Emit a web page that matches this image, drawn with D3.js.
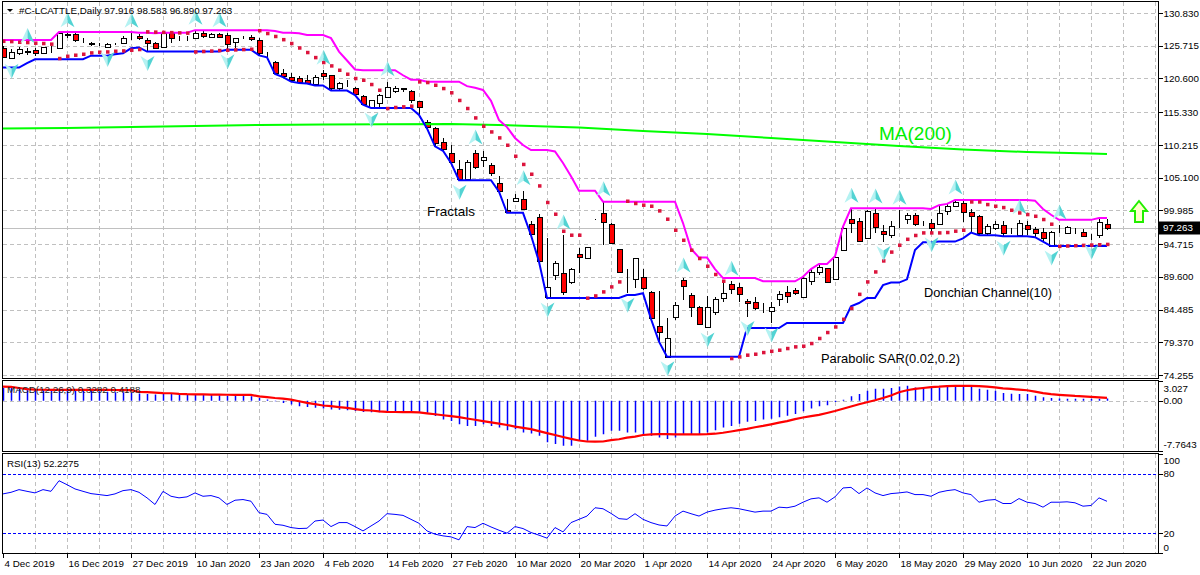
<!DOCTYPE html>
<html>
<head>
<meta charset="utf-8">
<script src="https://cdnjs.cloudflare.com/ajax/libs/d3/7.8.5/d3.min.js"></script>
<style>
body { margin: 0; background: #fff; }
svg { display: block; font-family: "Liberation Sans", Arial, sans-serif; }
</style>
</head>
<body>
<svg id="chart" width="1200" height="575"></svg>
<script>
// --- data ---
const symbolTitle = '#C-LCATTLE,Daily';
const lastBar = { open: 97.916, high: 98.583, low: 96.890, close: 97.263 };

const dateBars = [0, 8, 16, 24, 32, 40, 48, 56, 64, 72, 80, 88, 96, 104, 112, 120, 128, 136];
const dateLabels = ['4 Dec 2019', '16 Dec 2019', '27 Dec 2019', '10 Jan 2020', '23 Jan 2020', '4 Feb 2020',
  '14 Feb 2020', '27 Feb 2020', '10 Mar 2020', '20 Mar 2020', '1 Apr 2020', '14 Apr 2020', '24 Apr 2020',
  '6 May 2020', '18 May 2020', '29 May 2020', '10 Jun 2020', '22 Jun 2020'];

const opens = [125.31,123.75,124.53,124.8,125.05,124.53,125.3,125.31,127.5,127.55,
  126.6,126.1,125.9,125.56,126.0,126.19,127.0,127.24,126.61,126.19,
  125.47,127.75,126.9,126.9,126.88,127.75,127.1,127.55,127.4,126.35,
  127.0,127.1,126.61,124.4,123.2,121.5,120.9,120.6,120.4,119.7,
  121.5,121.1,119.1,119.75,119.06,117.9,116.2,116.7,117.75,118.7,
  119.1,118.7,117.1,113.84,112.8,110.7,108.9,106.4,104.84,108.9,
  107.9,107.1,104.3,100.0,101.5,101.72,97.86,99.0,86.5,89.89,
  90.15,88.84,93.12,92.5,98.59,99.53,97.86,93.9,89.53,89.22,
  89.62,87.28,81.92,77.12,83.28,89.1,86.76,84.93,81.7,84.15,
  86.24,88.48,87.95,85.87,85.6,84.8,84.3,86.09,87.28,87.5,
  86.4,89.0,90.4,90.9,89.22,93.8,98.59,98.37,95.62,99.62,
  96.7,96.14,98.6,98.6,99.26,98.06,97.95,97.86,99.94,100.67,
  101.09,99.78,99.1,96.5,97.2,97.7,96.7,96.14,97.7,97.0,
  96.65,94.42,97.0,96.5,96.8,96.65,96.0,96.14,97.916];
const highs = [125.6,125.16,125.47,125.3,125.3,125.56,125.67,127.86,127.75,127.75,
  126.9,126.35,126.2,126.1,126.1,127.24,127.66,127.6,126.88,126.35,
  127.75,127.75,127.3,127.3,128.15,128.0,127.7,127.75,127.66,127.0,
  127.2,127.4,126.9,124.8,123.4,122.0,121.4,121.0,121.2,121.1,
  121.9,121.1,120.1,120.4,119.3,118.0,117.3,118.2,120.1,119.4,
  119.15,118.8,117.1,114.1,113.0,111.3,110.2,107.9,107.9,109.4,
  109.2,107.4,105.3,101.8,102.5,103.06,98.4,99.4,95.6,92.0,
  96.14,91.0,94.06,94.3,98.7,101.34,98.0,94.0,90.78,92.6,
  90.8,87.4,87.43,83.12,85.6,89.4,87.1,85.0,86.6,86.4,
  88.83,88.9,88.6,86.2,86.4,85.5,85.6,87.4,88.2,87.8,
  89.6,90.8,91.6,91.0,92.8,97.45,100.3,98.8,100.1,100.2,
  97.7,98.3,100.0,99.6,99.6,98.4,98.6,100.8,101.0,101.6,
  101.5,100.2,99.3,97.8,98.3,98.3,97.3,98.5,98.3,97.4,
  97.2,96.8,97.7,97.6,97.2,97.0,96.3,98.8,98.583];
const lows = [123.9,123.6,124.27,124.27,124.16,124.38,124.53,125.31,127.0,126.35,
  126.1,125.67,125.6,125.45,125.8,126.1,126.6,126.6,124.8,125.2,
  125.4,126.2,126.4,126.4,126.7,127.0,127.0,126.9,125.1,125.4,
  126.7,126.4,124.2,123.9,121.3,120.8,120.1,119.9,119.8,119.5,
  120.4,118.7,118.7,119.3,118.0,116.5,116.0,116.2,117.7,118.3,
  118.5,116.8,114.9,112.8,110.0,109.3,107.4,104.7,104.8,106.4,
  106.8,105.3,102.9,99.6,101.34,100.04,96.1,91.96,86.3,89.1,
  86.76,88.5,90.15,92.4,98.5,94.57,94.7,90.3,87.03,87.8,
  87.6,83.0,79.46,77.12,82.8,85.98,83.38,82.1,81.6,83.6,
  85.7,86.9,85.6,83.38,84.4,83.9,82.4,85.0,85.5,86.7,
  86.3,88.3,89.9,88.7,89.2,93.8,96.4,95.0,95.5,96.5,
  95.1,95.6,97.2,97.8,97.6,97.5,96.5,97.7,99.3,100.5,
  98.2,96.65,96.1,96.2,96.9,95.95,96.3,96.0,96.1,95.8,
  95.1,94.4,96.4,96.3,96.3,95.8,95.3,95.6,96.89];
const closes = [124.0,124.78,125.16,124.82,124.53,125.47,125.31,127.66,127.4,126.61,
  126.55,126.05,125.85,125.98,125.95,126.88,127.0,126.88,126.19,125.31,
  127.7,126.88,126.85,126.9,127.75,127.24,127.55,127.1,126.0,126.88,
  127.0,126.7,124.53,124.35,121.5,121.0,120.4,120.1,119.9,120.8,
  121.0,119.1,119.85,119.75,118.17,116.6,117.2,118.0,119.2,119.1,
  119.0,117.2,116.1,112.97,110.5,109.5,107.6,104.84,107.6,106.8,
  108.4,105.9,103.06,99.8,101.87,100.15,96.29,92.12,88.06,91.72,
  87.28,90.78,92.65,94.22,98.6,98.22,94.84,90.4,89.5,92.5,
  87.8,83.12,81.03,80.0,85.2,88.17,84.93,82.23,84.93,86.09,
  87.12,87.7,86.9,85.47,84.7,84.8,84.9,86.97,86.6,87.1,
  89.37,90.4,91.1,88.84,92.65,97.19,98.06,95.25,99.94,97.34,
  96.3,97.55,98.6,99.26,97.86,98.06,97.2,99.62,100.67,101.34,
  99.78,99.1,96.5,97.55,97.86,96.5,96.7,98.06,97.0,96.4,
  95.62,96.65,97.0,97.34,96.8,95.98,96.0,98.22,97.263];

// the nine daily bars before 4 Dec that still feed the 10-bar Donchian window
const seedHighs = [125.6,125.9,126.1,126.0,126.3,126.4,126.6,126.2,125.9];
const seedLows = [122.3,122.4,122.3,123.0,123.9,124.1,124.3,124.4,124.2];

const sarValues = [126.45,126.4,126.3,126.25,126.15,126.1,126.0,
  123.75,124.1,124.27,124.42,124.63,124.74,124.78,124.89,124.94,125.05,125.16,
  127.92,127.88,127.84,127.8,127.76,127.72,
  124.78,124.85,124.92,125.0,125.05,125.1,125.15,125.2,
  128.1,127.66,127.2,126.7,126.1,125.4,124.69,123.9,123.13,122.6,121.92,121.3,120.63,120.36,119.69,118.8,
  115.94,116.1,116.2,116.3,
  120.1,120.0,119.58,119.06,118.4,117.2,115.94,114.47,113.17,112.28,111.35,110.2,108.48,107.2,105.67,103.84,101.25,99.42,96.76,96.14,96.14,
  86.3,86.65,87.28,88.06,88.84,
  101.45,101.1,100.83,100.67,99.94,98.64,96.92,95.35,93.8,92.5,91.29,90.0,88.95,
  76.87,77.12,77.39,77.54,77.8,78.0,78.17,78.43,78.69,78.79,
  79.21,80.0,80.93,81.8,83.0,84.7,86.9,88.84,90.4,92.12,
  93.5,94.57,95.5,96.1,96.5,96.5,96.5,96.56,96.77,96.92,
  101.34,101.34,100.93,100.67,100.46,100.04,99.62,99.37,99.1,98.59,97.86,
  94.4,94.45,94.5,94.55,94.6,94.65,94.7];

const upFractals = [3, 8, 16, 24, 27, 40, 48, 59, 65, 70, 75, 85, 91, 106, 109, 112, 119, 127, 132];
const downFractals = [1, 13, 18, 28, 46, 57, 68, 78, 83, 88, 93, 96, 110, 116, 125, 131, 136];

// MA(200) read at every 8th bar
const maBars = [0, 8, 16, 24, 32, 40, 48, 56, 64, 72, 80, 88, 96, 104, 112, 120, 128, 136, 138];
const maValues = [112.78, 112.86, 113.0, 113.17, 113.33, 113.4, 113.44, 113.48, 113.25, 112.94,
  112.39, 111.92, 111.3, 110.67, 110.05, 109.5, 109.1, 108.87, 108.8];

const macdMain = [2.0,1.95,1.9,1.85,1.8,1.75,1.7,1.8,1.82,1.75,
  1.65,1.55,1.45,1.38,1.3,1.28,1.25,1.1,1.02,0.95,
  1.05,1.02,1.0,0.97,0.98,0.92,0.88,0.82,0.72,0.72,
  0.72,0.68,0.42,0.18,-0.1,-0.35,-0.6,-0.86,-1.0,-1.1,
  -1.2,-1.35,-1.4,-1.5,-1.6,-1.75,-1.8,-1.8,-1.7,-1.62,
  -1.62,-1.62,-1.72,-1.87,-2.38,-2.89,-3.14,-3.65,-3.9,-3.9,
  -3.65,-3.9,-4.15,-4.56,-4.4,-4.91,-5.07,-5.42,-6.43,-6.69,
  -6.94,-6.94,-6.18,-6.18,-5.57,-5.17,-4.66,-4.66,-4.91,-4.91,
  -5.42,-5.42,-5.67,-5.93,-5.67,-5.17,-5.17,-5.27,-4.91,-4.56,
  -4.15,-3.9,-3.55,-3.24,-3.14,-2.89,-2.8,-2.58,-2.33,-2.07,
  -1.62,-1.21,-0.86,-0.71,-0.2,0.12,0.66,1.01,1.52,1.82,
  1.82,1.93,2.18,2.28,2.03,2.03,2.03,2.03,2.18,2.18,
  2.18,2.18,1.82,1.67,1.52,1.16,1.06,1.01,1.01,0.76,
  0.51,0.41,0.32,0.3,0.3,0.28,0.28,0.3,0.3282];
const macdSignal = [2.17,2.12,1.95,1.78,1.7,1.68,1.67,1.67,1.67,1.67,
  1.66,1.66,1.65,1.65,1.64,1.63,1.62,1.35,1.3,1.22,
  1.16,1.14,1.05,1.0,0.98,0.96,0.93,0.92,0.91,0.9,
  0.9,0.88,0.66,0.55,0.41,0.3,0.15,-0.1,-0.35,-0.55,
  -0.75,-0.86,-1.0,-1.11,-1.3,-1.45,-1.52,-1.65,-1.72,-1.75,
  -1.77,-1.77,-1.8,-1.95,-2.1,-2.25,-2.4,-2.55,-2.75,-2.95,
  -3.15,-3.35,-3.55,-3.75,-4.0,-4.2,-4.4,-4.7,-5.0,-5.3,
  -5.6,-5.9,-6.15,-6.3,-6.33,-6.3,-6.1,-5.95,-5.7,-5.55,
  -5.3,-5.2,-5.17,-5.17,-5.2,-5.2,-5.2,-5.2,-5.17,-5.1,
  -4.95,-4.76,-4.55,-4.35,-4.1,-3.9,-3.65,-3.4,-3.15,-2.85,
  -2.6,-2.4,-2.2,-1.9,-1.6,-1.25,-0.9,-0.55,-0.25,0.05,
  0.4,0.8,1.3,1.6,1.82,1.95,2.08,2.15,2.25,2.28,
  2.28,2.28,2.25,2.15,2.03,1.9,1.8,1.7,1.6,1.4,
  1.15,1.0,0.9,0.81,0.72,0.66,0.58,0.5,0.4188];

const rsiValues = [59.7,61.3,64,62.3,60.7,64,62.3,73,69,64.7,
  62.3,60,59,58,59.7,63,64,61.3,55.7,49,
  62.3,57.3,55.7,56.7,60.7,57.3,58,55.7,49,53.3,
  54,52.3,40.7,39,29,28,25.7,24.7,25,32.3,
  33.3,26.7,30.7,30.7,26.7,22.3,27.3,32.3,39.7,39,
  38,34,30,22.3,19,17.3,16.3,13.3,26.7,25.7,
  30,26.3,23,20,26.7,24.7,20.7,18,15,25.7,
  21.3,30.7,34,37.3,45.7,44.7,40,34.7,34,39.7,
  34,30.7,28.3,27.3,37.3,42.3,39.7,37.3,41.3,43.3,
  44.7,45.7,44.7,43,41.3,42.3,42.3,46.3,45.7,47.3,
  51.3,54.7,55.7,51.3,56.7,65.7,66.3,60,65.7,60.7,
  58,60,60.7,61.7,59,59,57.3,61.3,63,64,
  60.7,59,51.3,53.3,54,50,50,55,51.3,50,
  46.3,51.3,51.3,51.7,50.7,47.3,48,55.7,52.2275];

const priceTicks = [130.830, 125.715, 120.600, 115.330, 110.215, 105.100, 99.985, 94.715, 89.600, 84.485, 79.370, 74.255];
const macdTicks = [3.027, 0, -7.7643];
const macdTickLabels = ['3.027', '0.00', '-7.7643'];
const rsiTicks = [100, 80, 20, 0];
const rsiLevels = [80, 20];

// --- layout ---
const svg = d3.select('#chart');
const left = 2.5, right = 1158.5;
const panels = {
  main: { top: 1.5, bottom: 378.5 },
  macd: { top: 380.5, bottom: 451.5 },
  rsi: { top: 453.5, bottom: 553.5 }
};
const fontSmall = 9.8;

const x = d3.scaleLinear().domain([0, 138]).range([3, 1107]);
const y = d3.scaleLinear().domain([74.255, 130.83]).range([375, 13]);
const yMacd = d3.scaleLinear().domain([-7.7643, 3.027]).range([451, 381]);
const yRsi = d3.scaleLinear().domain([0, 100]).range([553, 454]);

const defs = svg.append('defs');
Object.entries(panels).forEach(([k, p]) => {
  defs.append('clipPath').attr('id', 'clip-' + k).append('rect')
    .attr('x', left).attr('y', p.top).attr('width', right - left).attr('height', p.bottom - p.top);
});

const gridColor = '#c0c0c0';
const gridBars = d3.range(4, 145, 4);

function panelGroup(k) {
  return svg.append('g').attr('clip-path', 'url(#clip-' + k + ')');
}

// vertical grid in all panels
Object.entries(panels).forEach(([k, p]) => {
  const g = panelGroup(k);
  g.selectAll('line.vg').data(gridBars).enter().append('line')
    .attr('x1', d => Math.round(x(d)) + 0.5).attr('x2', d => Math.round(x(d)) + 0.5)
    .attr('y1', p.top).attr('y2', p.bottom)
    .attr('stroke', gridColor).attr('stroke-dasharray', '4,3').attr('shape-rendering', 'crispEdges');
});

// ---------- main panel ----------
const gMain = panelGroup('main');
gMain.selectAll('line.hg').data(priceTicks).enter().append('line')
  .attr('x1', left).attr('x2', right)
  .attr('y1', d => Math.round(y(d)) + 0.5).attr('y2', d => Math.round(y(d)) + 0.5)
  .attr('stroke', gridColor).attr('stroke-dasharray', '4,3').attr('shape-rendering', 'crispEdges');

// current price line
gMain.append('line')
  .attr('x1', left).attr('x2', right)
  .attr('y1', Math.round(y(lastBar.close)) + 0.5).attr('y2', Math.round(y(lastBar.close)) + 0.5)
  .attr('stroke', '#c0c0c0').attr('shape-rendering', 'crispEdges');

// candles
const bars = opens.map((o, i) => ({ i, o, h: highs[i], l: lows[i], c: closes[i] }));
const candles = gMain.selectAll('g.candle').data(bars).enter().append('g').attr('shape-rendering', 'crispEdges');
candles.append('line')
  .attr('x1', d => x(d.i) + 0.5).attr('x2', d => x(d.i) + 0.5)
  .attr('y1', d => y(d.h)).attr('y2', d => y(d.l))
  .attr('stroke', '#000');
candles.append('rect')
  .attr('x', d => x(d.i) - 2 + 0.5)
  .attr('y', d => Math.round(y(Math.max(d.o, d.c))) + 0.5)
  .attr('width', 5)
  .attr('height', d => Math.max(0, Math.round(y(Math.min(d.o, d.c))) - Math.round(y(Math.max(d.o, d.c)))))
  .attr('fill', d => d.c < d.o ? '#ff0000' : '#ffffff')
  .attr('stroke', '#000');

// MA(200)
gMain.append('path')
  .datum(maBars.map((b, k) => [b, maValues[k]]))
  .attr('d', d3.line().x(d => x(d[0])).y(d => y(d[1])))
  .attr('fill', 'none').attr('stroke', '#00ff00').attr('stroke-width', 2);

// Donchian channel(10)
const allHighs = seedHighs.concat(highs);
const allLows = seedLows.concat(lows);
const dcUpper = highs.map((_, i) => d3.max(allHighs.slice(i, i + 10)));
const dcLower = lows.map((_, i) => d3.min(allLows.slice(i, i + 10)));
const lineGen = d3.line().x((d, i) => x(i)).y(d => y(d));
gMain.append('path').datum(dcUpper).attr('d', lineGen)
  .attr('fill', 'none').attr('stroke', '#ff00ff').attr('stroke-width', 2);
gMain.append('path').datum(dcLower).attr('d', lineGen)
  .attr('fill', 'none').attr('stroke', '#0000ff').attr('stroke-width', 2);

// Parabolic SAR dots
gMain.selectAll('rect.sar').data(sarValues).enter().append('rect')
  .attr('x', (d, i) => x(i) - 1).attr('y', d => y(d) - 1.5)
  .attr('width', 3.5).attr('height', 3.5).attr('fill', '#dc143c');

// Fractals
function drawFractal(bar, up) {
  const cx = x(bar) + 0.5;
  const cy = up ? y(highs[bar]) - 13 : y(lows[bar]) + 12;
  const s = up ? 1 : -1;
  const g = gMain.append('g').attr('transform', `translate(${cx},${cy}) scale(1,${s})`);
  g.append('path').attr('d', 'M0,-7.5 L0,3 L-7,7.5 Z').attr('fill', '#b4f2f2');
  g.append('path').attr('d', 'M0,-7.5 L7,7.5 L0,3 Z').attr('fill', '#52d3d3');
}
upFractals.forEach(b => drawFractal(b, true));
downFractals.forEach(b => drawFractal(b, false));

// annotations
const notes = svg.append('g').attr('font-family', '"Liberation Sans", Arial, sans-serif');
notes.append('text').attr('x', 427).attr('y', 211).attr('dy', '0.35em')
  .attr('font-size', 13.5).text('Fractals');
notes.append('text').attr('x', 924).attr('y', 292.5).attr('dy', '0.35em')
  .attr('font-size', 12.8).text('Donchian Channel(10)');
notes.append('text').attr('x', 821).attr('y', 358).attr('dy', '0.35em')
  .attr('font-size', 12.9).text('Parabolic SAR(0.02,0.2)');
notes.append('text').attr('x', 879).attr('y', 133).attr('dy', '0.35em')
  .attr('font-size', 19).attr('fill', '#00ee00').text('MA(200)');

// green up arrow
svg.append('path')
  .attr('d', 'M1139,201 L1147,211 L1143,211 L1143,222 L1135,222 L1135,211 L1131,211 Z')
  .attr('fill', '#ffffcc').attr('stroke', '#22ee00').attr('stroke-width', 2).attr('stroke-linejoin', 'miter');

// title
svg.append('path').attr('d', 'M7,9 L13,9 L10,12 Z').attr('fill', '#000');
svg.append('text').attr('x', 19).attr('y', 11).attr('dy', '0.35em').attr('font-size', fontSmall)
  .text(`${symbolTitle}  ${lastBar.open.toFixed(3)} ${lastBar.high.toFixed(3)} ${lastBar.low.toFixed(3)} ${lastBar.close.toFixed(3)}`);

// ---------- MACD panel ----------
const gMacd = panelGroup('macd');
gMacd.append('line').attr('x1', left).attr('x2', right)
  .attr('y1', Math.round(yMacd(0)) + 0.5).attr('y2', Math.round(yMacd(0)) + 0.5)
  .attr('stroke', gridColor).attr('stroke-dasharray', '4,3').attr('shape-rendering', 'crispEdges');
gMacd.selectAll('line.hist').data(macdMain).enter().append('line')
  .attr('x1', (d, i) => x(i) + 0.5).attr('x2', (d, i) => x(i) + 0.5)
  .attr('y1', yMacd(0)).attr('y2', d => yMacd(d))
  .attr('stroke', '#0000ff').attr('stroke-width', 1.5);
gMacd.append('path').datum(macdSignal).attr('d', d3.line().x((d, i) => x(i)).y(d => yMacd(d)))
  .attr('fill', 'none').attr('stroke', '#ff0000').attr('stroke-width', 2.2);
svg.append('text').attr('x', 7).attr('y', 390).attr('dy', '0.35em').attr('font-size', fontSmall)
  .attr('fill', '#222')
  .text(`MACD(12,26,9) ${macdMain[macdMain.length - 1].toFixed(4)} ${macdSignal[macdSignal.length - 1].toFixed(4)}`);

// ---------- RSI panel ----------
const gRsi = panelGroup('rsi');
gRsi.selectAll('line.lvl').data(rsiLevels).enter().append('line')
  .attr('x1', left).attr('x2', right)
  .attr('y1', d => Math.round(yRsi(d)) + 0.5).attr('y2', d => Math.round(yRsi(d)) + 0.5)
  .attr('stroke', '#0000ff').attr('stroke-dasharray', '3,2').attr('shape-rendering', 'crispEdges');
gRsi.append('path').datum(rsiValues).attr('d', d3.line().x((d, i) => x(i)).y(d => yRsi(d)))
  .attr('fill', 'none').attr('stroke', '#0000ff').attr('stroke-width', 1);
svg.append('text').attr('x', 7).attr('y', 463.5).attr('dy', '0.35em').attr('font-size', fontSmall)
  .text(`RSI(13) ${rsiValues[rsiValues.length - 1].toFixed(4)}`);

// ---------- frames ----------
Object.values(panels).forEach(p => {
  svg.append('rect').attr('x', left).attr('y', p.top).attr('width', right - left).attr('height', p.bottom - p.top)
    .attr('fill', 'none').attr('stroke', '#000').attr('shape-rendering', 'crispEdges');
});

// ---------- axes ----------
function styleAxis(g) {
  g.select('.domain').remove();
  g.selectAll('line').attr('stroke', '#000').attr('shape-rendering', 'crispEdges');
  g.selectAll('text').attr('font-size', fontSmall).attr('font-family', '"Liberation Sans", Arial, sans-serif').attr('fill', '#000');
}
svg.append('g').attr('transform', `translate(${right},0)`)
  .call(d3.axisRight(y).tickValues(priceTicks).tickFormat(d3.format('.3f')).tickSize(4).tickPadding(1))
  .call(styleAxis);

svg.append('g').attr('transform', `translate(${right},0)`)
  .call(d3.axisRight(yMacd).tickValues(macdTicks).tickFormat((d, i) => macdTickLabels[i]).tickSize(4).tickPadding(1))
  .call(styleAxis)
  .call(g => g.selectAll('.tick text').attr('dy', (d, i) => i === 0 ? '1.05em' : (i === 2 ? '-0.35em' : '0.32em')));

svg.append('g').attr('transform', `translate(${right},0)`)
  .call(d3.axisRight(yRsi).tickValues(rsiTicks).tickFormat(d3.format('d')).tickSize(4).tickPadding(1))
  .call(styleAxis)
  .call(g => g.selectAll('.tick text').attr('dy', d => d === 100 ? '1.0em' : (d === 0 ? '-0.3em' : '0.32em')));

svg.append('g').attr('transform', `translate(0,${panels.rsi.bottom})`)
  .call(d3.axisBottom(x).tickValues(dateBars).tickFormat((d, i) => dateLabels[i]).tickSize(4).tickPadding(3))
  .call(styleAxis)
  .call(g => g.selectAll('.tick text').attr('text-anchor', 'start').attr('x', 1));

// current price badge
const badgeY = Math.round(y(lastBar.close));
svg.append('rect').attr('x', right + 0.5).attr('y', badgeY - 6.5).attr('width', 41).attr('height', 13).attr('fill', '#000');
svg.append('text').attr('x', 1163).attr('y', badgeY).attr('dy', '0.35em').attr('font-size', fontSmall)
  .attr('fill', '#fff').text(lastBar.close.toFixed(3));
</script>
</body>
</html>
